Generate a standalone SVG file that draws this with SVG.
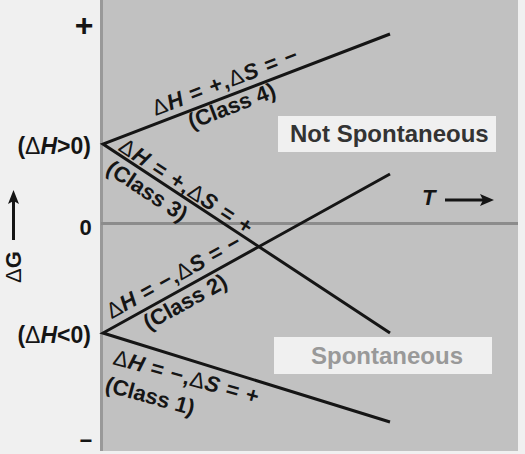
<svg xmlns="http://www.w3.org/2000/svg" width="525" height="454" viewBox="0 0 525 454">
<defs>
<style>
.t{font-family:"Liberation Sans",Arial,Helvetica,sans-serif;font-size:22px;font-weight:bold;fill:#151515}
.d{font-weight:normal}
.i{font-style:italic}
.ln{fill:none;stroke:#151515;stroke-width:3;stroke-linejoin:miter}
.ax{stroke:#151515;stroke-width:3}
.hd{fill:#151515}
.box{fill:#f0f0f0}
.big{font-family:"Liberation Sans",Arial,Helvetica,sans-serif;font-size:24px;font-weight:bold}
</style>
</defs>
<rect x="0" y="0" width="525" height="454" fill="#f0f0f0"/>
<g id="panel">
<rect x="101" y="0" width="417" height="451" fill="#c1c1c1"/>
<line x1="101.5" y1="0" x2="101.5" y2="451" stroke="#999" stroke-width="3"/>
<line x1="101" y1="223.5" x2="518" y2="223.5" stroke="#8c8c8c" stroke-width="3"/>
</g>
<g id="axis">
<text class="t" x="84" y="36" style="font-size:32px" text-anchor="middle">+</text>
<text class="t" x="85.5" y="235" text-anchor="middle">0</text>
<text class="t" x="86" y="448" text-anchor="middle">−</text>
<text class="t" x="91" y="154" style="font-size:23px" text-anchor="end">(<tspan class="d">Δ</tspan><tspan class="i">H</tspan>&gt;0)</text>
<text class="t" x="91" y="343" style="font-size:23px" text-anchor="end">(<tspan class="d">Δ</tspan><tspan class="i">H</tspan>&lt;0)</text>
<line class="ax" x1="13.5" y1="240" x2="13.5" y2="200"/>
<polygon class="hd" points="13.5,190 19,204 13.5,201 8,204"/>
<text class="t" transform="translate(21,283) rotate(-90)"><tspan class="d">Δ</tspan>G</text>
<text class="t" x="422" y="205"><tspan class="i">T</tspan></text>
<line class="ax" x1="445" y1="200" x2="484" y2="200"/>
<polygon class="hd" points="494,200 480,206 483,200 480,194"/>
</g>
<g id="lines">
<polyline class="ln" points="390,34 103,144 390,333"/>
<polyline class="ln" points="390,174 103,333 390,422"/>
</g>
<g id="class4">
<text class="t" transform="translate(155.5,116) rotate(-20.97)" textLength="154" lengthAdjust="spacing"><tspan class="d">Δ</tspan><tspan class="i">H</tspan> = +,<tspan class="d">Δ</tspan><tspan class="i">S</tspan> = −</text>
<text class="t" transform="translate(191.6,129.3) rotate(-20.97)">(Class 4)</text>
</g>
<g id="class3">
<text class="t" transform="translate(117.2,149.7) rotate(33.37)" textLength="155" lengthAdjust="spacing"><tspan class="d">Δ</tspan><tspan class="i">H</tspan> = +,<tspan class="d">Δ</tspan><tspan class="i">S</tspan> = +</text>
<text class="t" transform="translate(104.8,172.1) rotate(33.37)">(Class 3)</text>
</g>
<g id="class2">
<text class="t" transform="translate(111.4,319.2) rotate(-28.99)" textLength="150" lengthAdjust="spacing"><tspan class="d">Δ</tspan><tspan class="i">H</tspan> = −,<tspan class="d">Δ</tspan><tspan class="i">S</tspan> = −</text>
<text class="t" transform="translate(148.6,330.6) rotate(-28.99)">(Class 2)</text>
</g>
<g id="class1">
<text class="t" transform="translate(112,364) rotate(15.5)" textLength="150" lengthAdjust="spacing"><tspan class="d">Δ</tspan><tspan class="i">H</tspan> = −,<tspan class="d">Δ</tspan><tspan class="i">S</tspan> = +</text>
<text class="t" transform="translate(104,391) rotate(15.5)">(Class 1)</text>
</g>
<g id="not-spontaneous">
<rect class="box" x="278" y="116" width="218" height="36"/>
<text class="big" x="290" y="142" fill="#333">Not Spontaneous</text>
</g>
<g id="spontaneous">
<rect class="box" x="274" y="337" width="218" height="37"/>
<text class="big" x="311" y="364" fill="#999">Spontaneous</text>
</g>
</svg>
